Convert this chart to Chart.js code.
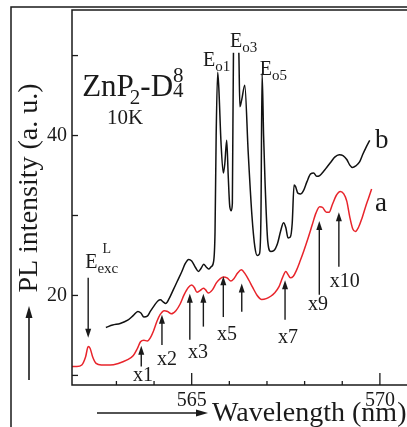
<!DOCTYPE html>
<html><head><meta charset="utf-8">
<script src="https://cdn.jsdelivr.net/npm/chart.js@4.4.0/dist/chart.umd.min.js"></script>
<style>html,body{margin:0;padding:0;background:#fff;overflow:hidden}
#wrap{width:407px;height:427px;position:relative}</style>
</head><body><div id="wrap"><canvas id="c" width="407" height="427"></canvas></div>
<script>
// ---- data (wavelength in nm, PL intensity in a.u.) ----
const wavelengthA = [561.77,561.95,562.08,562.18,562.25,562.30,562.37,562.46,562.6,562.83,563.05,563.27,563.45,563.55,563.64,563.73,563.82,563.9,563.98,564.08,564.16,564.27,564.36,564.46,564.58,564.69,564.8,564.91,565.0,565.07,565.14,565.22,565.31,565.37,565.44,565.55,565.66,565.76,565.84,565.94,566.04,566.12,566.22,566.32,566.42,566.52,566.62,566.74,566.86,566.98,567.1,567.2,567.32,567.41,567.5,567.56,567.62,567.7,567.78,567.88,567.98,568.08,568.2,568.3,568.4,568.48,568.58,568.65,568.74,568.84,568.95,569.04,569.12,569.2,569.28,569.35,569.43,569.52,569.62,569.7,569.78];
const intensityA  = [11.1,11.1,11.3,12.3,13.6,13.4,12.3,11.5,11.3,11.3,11.5,11.9,12.5,13.3,14.2,14.4,14.3,14.7,15.5,16.8,17.6,18.1,18.0,17.7,18.1,18.9,20.1,21.0,21.3,21.0,20.4,20.6,20.9,20.7,20.3,20.7,21.6,22.1,22.3,22.2,21.8,22.1,22.8,23.2,22.7,21.9,21.0,20.0,19.5,19.6,19.9,20.3,21.1,22.2,23.0,22.6,22.2,22.4,23.1,24.3,25.6,27.0,28.8,30.3,31.1,31.0,30.4,30.4,31.4,32.5,33.0,32.7,31.8,29.8,28.3,28.0,28.5,29.6,31.1,32.2,33.3];
const wavelengthB = [562.72,562.9,563.1,563.3,563.45,563.57,563.65,563.73,563.82,563.9,564.0,564.1,564.17,564.24,564.31,564.4,564.51,564.62,564.73,564.83,564.92,565.0,565.1,565.18,565.25,565.32,565.38,565.45,565.52,565.58,565.62,565.65,565.69,565.72,565.78,565.84,565.88,565.93,565.97,566.01,566.05,566.08,566.11,566.18,566.25,566.28,566.33,566.41,566.5,566.6,566.68,566.74,566.8,566.84,566.87,566.91,566.95,567.02,567.1,567.18,567.28,567.36,567.44,567.5,567.56,567.62,567.67,567.72,567.76,567.82,567.9,567.97,568.06,568.16,568.24,568.32,568.4,568.5,568.6,568.7,568.8,568.92,569.02,569.12,569.2,569.27,569.36,569.46,569.54,569.62,569.73];
const intensityB  = [16.0,16.3,16.5,16.9,17.5,18.0,17.8,17.3,17.4,18.0,18.7,19.3,19.45,19.2,19.0,19.6,20.7,21.8,22.9,24.0,24.5,24.3,23.5,23.0,23.4,23.9,23.6,23.3,23.6,24.2,28.0,40.0,47.9,46.0,39.0,35.3,36.5,39.4,35.0,31.2,30.6,31.5,50.7,52.5,50.7,43.6,44.5,46.3,38.0,30.0,26.0,25.0,25.2,30.0,47.8,40.0,34.0,26.8,25.5,25.6,26.5,28.0,29.1,28.5,27.2,27.3,29.0,33.8,33.6,32.8,32.7,33.1,34.2,35.2,35.3,34.9,35.0,35.5,36.1,36.7,37.3,37.6,37.5,37.0,36.3,36.0,36.2,36.7,37.6,38.4,39.4];

const xTickValues = [563,564,565,566,567,568,569,570];
const xTickLabels = {565:'565', 570:'570'};
const xMajor = [565,570];
const yTickValues = [10,20,30,40,50];
const yTickLabels = {20:'20', 40:'40'};

// arrows (wavelength, from intensity, to intensity)
const upArrows = [
  [563.66,11.1,13.7],[564.21,13.8,17.6],[564.95,14.45,20.2],[565.31,16.1,20.2],
  [565.84,17.3,22.4],[566.33,17.95,21.5],[567.48,16.95,21.9],[568.39,20.1,29.3],[568.91,23.6,30.4]
];
const downArrow = [562.25,22.2,14.7];
const peakLabels = [ // text, wavelength, intensity(baseline), sub
  ['E',565.30,48.7,'o1'],['E',566.02,51.1,'o3'],['E',566.81,47.6,'o5']
];
const xLabels = [['x1',563.44,9.24],['x2',564.08,11.33],['x3',564.90,12.2],['x5',565.67,14.45],['x7',567.29,14.08],['x9',568.09,18.2],['x10',568.67,21.08]];

const serif = 'serif';
const INK = '#1a1a1a';
Chart.defaults.font.family = serif;

function rich(ctx, x, y, parts){
  let cx = x;
  for (const p of parts){
    ctx.font = p.s + 'px ' + serif;
    if (p.stack){
      const w1 = ctx.measureText(p.sub).width, w2 = ctx.measureText(p.sup).width;
      ctx.fillText(p.sub, cx, y + p.dsub);
      ctx.fillText(p.sup, cx, y + p.dsup);
      cx += Math.max(w1, w2);
    } else {
      cx += (p.dx || 0);
      ctx.fillText(p.t, cx, y + (p.dy || 0));
      cx += ctx.measureText(p.t).width;
    }
  }
  return cx;
}
function arrow(ctx, x, y1, y2){
  const dir = y2 < y1 ? 1 : -1; // head at y2
  ctx.beginPath(); ctx.moveTo(x, y1); ctx.lineTo(x, y2 + dir*7); ctx.stroke();
  ctx.beginPath(); ctx.moveTo(x, y2); ctx.lineTo(x-3, y2 + dir*9); ctx.lineTo(x+3, y2 + dir*9); ctx.closePath(); ctx.fill();
}

const deco = {
  id: 'deco',
  afterDraw(chart){
    const ctx = chart.ctx, xs = chart.scales.x, ys = chart.scales.y, ca = chart.chartArea;
    const X = v => xs.getPixelForValue(v), Y = v => ys.getPixelForValue(v);
    ctx.save();
    ctx.strokeStyle = INK; ctx.fillStyle = INK; ctx.lineWidth = 1.5;
    // outer frame
    ctx.beginPath(); ctx.moveTo(11, 430); ctx.lineTo(11, 7); ctx.lineTo(410, 7); ctx.stroke();
    // plot frame
    ctx.beginPath(); ctx.moveTo(ca.right + 5, ca.bottom); ctx.lineTo(ca.left, ca.bottom); ctx.lineTo(ca.left, ca.top); ctx.lineTo(ca.right + 5, ca.top); ctx.stroke();
    // inward ticks
    ctx.lineWidth = 1.3;
    for (const v of xTickValues){
      const len = xMajor.includes(v) ? 12 : 4;
      ctx.beginPath(); ctx.moveTo(X(v), ca.bottom); ctx.lineTo(X(v), ca.bottom - len); ctx.stroke();
    }
    for (const v of yTickValues){
      ctx.beginPath(); ctx.moveTo(ca.left, Y(v)); ctx.lineTo(ca.left + 6, Y(v)); ctx.stroke();
    }
    // arrows
    ctx.lineWidth = 1.4;
    for (const a of upArrows) arrow(ctx, X(a[0]), Y(a[1]), Y(a[2]));
    arrow(ctx, X(downArrow[0]), Y(downArrow[1]), Y(downArrow[2]));
    // axis arrows
    ctx.lineWidth = 1.6;
    ctx.beginPath(); ctx.moveTo(97, ca.bottom + 28); ctx.lineTo(200, ca.bottom + 28); ctx.stroke();
    ctx.beginPath(); ctx.moveTo(208, ca.bottom + 28); ctx.lineTo(196, ca.bottom + 24.5); ctx.lineTo(196, ca.bottom + 31.5); ctx.closePath(); ctx.fill();
    ctx.beginPath(); ctx.moveTo(29, 380); ctx.lineTo(29, 314); ctx.stroke();
    ctx.beginPath(); ctx.moveTo(29, 306); ctx.lineTo(25.5, 318); ctx.lineTo(32.5, 318); ctx.closePath(); ctx.fill();

    ctx.textBaseline = 'alphabetic'; ctx.textAlign = 'left';
    // axis titles
    ctx.font = '28px ' + serif;
    ctx.fillText('Wavelength (nm)', X(565.54), ca.bottom + 36);
    ctx.save(); ctx.translate(37, 188); ctx.rotate(-Math.PI/2); ctx.textAlign = 'center';
    ctx.font = '28px ' + serif; ctx.fillText('PL intensity (a. u.)', 0, 0); ctx.restore();

    // sample label
    rich(ctx, X(562.09), Y(44.95), [
      {t:'Zn', s:31}, {t:'P', s:31}, {t:'2', s:21, dy:8, dx:-4}, {t:'-', s:31}, {t:'D', s:31},
      {stack:true, sub:'4', sup:'8', s:21, dsub:1, dsup:-14}
    ]);
    ctx.font = '21px ' + serif; ctx.fillText('10K', X(562.75), Y(41.45));

    // peak labels
    for (const p of peakLabels){
      const x0 = X(p[1]), y0 = Y(p[2]);
      if (p[3] === 'o3'){ ctx.save(); ctx.fillStyle = '#fff'; ctx.fillRect(x0 - 1, y0 - 16, 30, 22); ctx.restore(); }
      rich(ctx, x0, y0, [{t:p[0], s:20}, {t:p[3], s:15, dy:5}]);
    }
    // E_exc^L
    const ex = X(562.17), ey = Y(23.45);
    ctx.font = '20px ' + serif; ctx.fillText('E', ex, ey);
    const ew = ctx.measureText('E').width;
    ctx.font = '15px ' + serif; ctx.fillText('exc', ex + ew, ey + 5);
    ctx.font = '14px ' + serif; ctx.fillText('L', ex + ew + 5, ey - 15);
    // curve labels
    ctx.font = '27px ' + serif;
    ctx.fillText('b', X(569.87), Y(38.45));
    ctx.fillText('a', X(569.87), Y(30.6));
    // x-labels
    ctx.font = '20px ' + serif;
    for (const l of xLabels) ctx.fillText(l[0], X(l[1]), Y(l[2]));
    ctx.restore();
  }
};

new Chart(document.getElementById('c'), {
  type: 'line',
  data: {
    datasets: [
      { label: 'a', data: wavelengthA.map((w,i)=>({x:w, y:intensityA[i]})), borderColor: '#e8242b', borderWidth: 1.5, pointRadius: 0, cubicInterpolationMode: 'monotone', fill: false },
      { label: 'b', data: wavelengthB.map((w,i)=>({x:w, y:intensityB[i]})), borderColor: '#111', borderWidth: 1.5, pointRadius: 0, cubicInterpolationMode: 'monotone', fill: false }
    ]
  },
  options: {
    responsive: false, animation: false, devicePixelRatio: 1,
    layout: { padding: { left: 0, top: 10, right: 0, bottom: 0 } },
    plugins: { legend: { display: false }, tooltip: { enabled: false } },
    scales: {
      x: {
        type: 'linear', min: 561.82, max: 570.72,
        afterBuildTicks: s => { s.ticks = xTickValues.map(v => ({value: v})); },
        afterFit: s => { s.height = 42; s.paddingLeft = 0; s.paddingRight = 0; },
        grid: { display: false, drawTicks: false }, border: { display: false },
        ticks: { autoSkip: false, maxRotation: 0, padding: 4, color: INK, font: { family: serif, size: 20 }, callback: v => xTickLabels[v] || '' }
      },
      y: {
        type: 'linear', min: 8.8, max: 55.7,
        afterBuildTicks: s => { s.ticks = yTickValues.map(v => ({value: v})); },
        afterFit: s => { s.width = 72; s.paddingTop = 0; s.paddingBottom = 0; },
        grid: { display: false, drawTicks: false }, border: { display: false },
        ticks: { autoSkip: false, padding: 5, color: INK, font: { family: serif, size: 20 }, callback: v => yTickLabels[v] || '' }
      }
    }
  },
  plugins: [deco]
});
</script>
</body></html>
